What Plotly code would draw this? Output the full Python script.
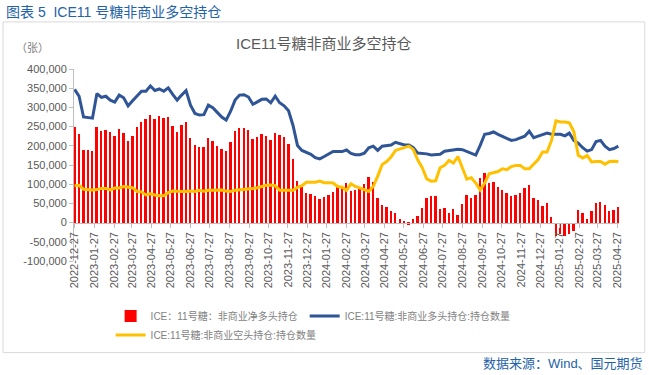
import plotly.graph_objects as go
import pandas as pd

# ---------------- data ----------------
first_week = "2022-12-27"
n_weeks = 123
week_dates = pd.date_range(first_week, periods=n_weeks, freq="7D")

net_long = [
    248000, 230000, 188000, 188000, 186000, 248000, 238000, 240000, 235000, 225000,
    243000, 233000, 212000, 225000, 248000, 262000, 271000, 281000, 269000, 278000,
    272000, 274000, 252000, 235000, 253000, 263000, 221000, 201000, 198000, 198000,
    221000, 213000, 200000, 192000, 186000, 210000, 238000, 246000, 246000, 240000,
    219000, 223000, 230000, 226000, 214000, 233000, 227000, 224000, 206000, 166000,
    108000, 92000, 78000, 75000, 69000, 61000, 67000, 71000, 81000, 92000,
    90000, 104000, 82000, 86000, 90000, 101000, 118000, 107000, 63000, 45000,
    41000, 29000, 26000, 9000, 4000, -5000, 10000, 18000, 37000, 65000,
    68000, 68000, 35000, 37000, 26000, 35000, 19000, 48000, 73000, 64000,
    73000, 116000, 130000, 103000, 106000, 94000, 84000, 77000, 69000, 72000,
    77000, 89000, 98000, 63000, 59000, 42000, 50000, 14000, -34000, -30000,
    -36000, -29000, -23000, 34000, 26000, 9000, 31000, 52000, 53000, 45000,
    29000, 33000, 40000,
]

long_pos = [
    347000, 329000, 275000, 274000, 272000, 336000, 326000, 329000, 319000, 314000,
    332000, 325000, 304000, 317000, 329000, 342000, 342000, 356000, 344000, 348000,
    342000, 351000, 334000, 319000, 332000, 344000, 306000, 284000, 280000, 281000,
    306000, 299000, 287000, 275000, 267000, 290000, 319000, 332000, 333000, 327000,
    308000, 314000, 321000, 322000, 312000, 329000, 312000, 304000, 291000, 253000,
    201000, 188000, 183000, 178000, 169000, 166000, 172000, 179000, 185000, 185000,
    185000, 189000, 180000, 177000, 177000, 181000, 195000, 199000, 188000, 199000,
    200000, 202000, 209000, 206000, 202000, 202000, 195000, 181000, 180000, 179000,
    176000, 177000, 178000, 186000, 188000, 190000, 191000, 190000, 186000, 181000,
    176000, 201000, 230000, 232000, 236000, 230000, 225000, 221000, 214000, 216000,
    221000, 225000, 238000, 221000, 225000, 228000, 233000, 230000, 230000, 230000,
    226000, 233000, 214000, 207000, 195000, 186000, 190000, 211000, 214000, 199000,
    190000, 193000, 199000,
]

short_pos = [
    96000, 97000, 87000, 86000, 85000, 86000, 89000, 89000, 85000, 90000,
    90000, 94000, 93000, 91000, 81000, 80000, 72000, 75000, 72000, 70000,
    70000, 78000, 82000, 81000, 81000, 81000, 82000, 81000, 84000, 82000,
    84000, 84000, 85000, 85000, 82000, 81000, 84000, 85000, 86000, 87000,
    89000, 91000, 94000, 97000, 98000, 96000, 84000, 84000, 85000, 84000,
    92000, 96000, 105000, 105000, 105000, 108000, 104000, 104000, 103000, 94000,
    92000, 84000, 101000, 94000, 91000, 86000, 81000, 94000, 121000, 151000,
    159000, 171000, 188000, 192000, 197000, 199000, 190000, 163000, 143000, 114000,
    108000, 109000, 143000, 149000, 162000, 155000, 172000, 142000, 113000, 117000,
    103000, 85000, 103000, 127000, 129000, 133000, 140000, 138000, 146000, 149000,
    149000, 140000, 140000, 152000, 164000, 184000, 184000, 214000, 265000, 262000,
    262000, 260000, 237000, 175000, 168000, 175000, 158000, 159000, 159000, 152000,
    159000, 160000, 159000,
]

x_tick_labels = [
    "2022-12-27", "2023-01-27", "2023-02-27", "2023-03-27", "2023-04-27",
    "2023-05-27", "2023-06-27", "2023-07-27", "2023-08-27", "2023-09-27",
    "2023-10-27", "2023-11-27", "2023-12-27", "2024-01-27", "2024-02-27",
    "2024-03-27", "2024-04-27", "2024-05-27", "2024-06-27", "2024-07-27",
    "2024-08-27", "2024-09-27", "2024-10-27", "2024-11-27", "2024-12-27",
    "2025-01-27", "2025-02-27", "2025-03-27", "2025-04-27",
]

y_tick_vals = [400000, 350000, 300000, 250000, 200000, 150000, 100000, 50000, 0, -50000, -100000]
y_tick_text = ["400,000", "350,000", "300,000", "250,000", "200,000", "150,000",
               "100,000", "50,000", "0", "-50,000", "-100,000"]

name_net = "ICE：11号糖：非商业净多头持仓"
name_long = "ICE:11号糖:非商业多头持仓:持仓数量"
name_short = "ICE:11号糖:非商业空头持仓:持仓数量"

main_title = "图表 5  ICE11 号糖非商业多空持仓"
chart_title = "ICE11号糖非商业多空持仓"
unit_label = "（张）"
source_label = "数据来源：Wind、国元期货"

# ---------------- styling ----------------
FONT = "Liberation Sans, Noto Sans CJK SC, sans-serif"
BLUE_TXT = "#2462A8"
AX = "#BFBFBF"

W, H = 649, 375
L, R, T, B = 74.4, 29.8, 69, 114.4
pw, ph = W - L - R, H - T - B


def px_x(p):
    return (p - L) / pw


def px_y(p):
    return (H - B - p) / ph


fig = go.Figure()
fig.add_trace(go.Bar(
    x=week_dates, y=net_long, name=name_net, legend="legend",
    marker=dict(color="#FF0000", line=dict(width=0)),
    width=3 * 86400000,
))
fig.add_trace(go.Scatter(
    x=week_dates, y=long_pos, name=name_long, mode="lines", legend="legend2",
    line=dict(color="#2F5597", width=3),
))
fig.add_trace(go.Scatter(
    x=week_dates, y=short_pos, name=name_short, mode="lines", legend="legend3",
    line=dict(color="#FFC000", width=3),
))


def leg(xp, yp):
    return dict(
        orientation="h", x=px_x(xp), y=px_y(yp), xanchor="left", yanchor="top",
        font=dict(size=10, color="#7F7F7F", family=FONT), itemwidth=30,
        bgcolor="rgba(0,0,0,0)",
    )


fig.update_layout(
    width=W, height=H, autosize=False,
    margin=dict(l=L, r=R, t=T, b=B, pad=0),
    paper_bgcolor="white", plot_bgcolor="white",
    font=dict(family=FONT, size=11, color="#595959"),
    showlegend=True,
    legend=leg(111, 301),
    legend2=leg(305, 301),
    legend3=leg(111, 320),
    bargap=0,
    xaxis=dict(
        type="date",
        range=["2022-12-26", "2025-04-30"],
        tickvals=x_tick_labels, ticktext=x_tick_labels,
        tickangle=-90, ticks="outside", ticklen=4, tickcolor=AX,
        showline=True, linecolor=AX, linewidth=1,
        anchor="free", position=0.2,
        showgrid=False, zeroline=False,
        tickfont=dict(size=11, color="#595959", family=FONT),
    ),
    yaxis=dict(
        range=[-100000, 400000],
        tickvals=y_tick_vals, ticktext=y_tick_text,
        ticks="outside", ticklen=4, tickcolor=AX,
        showline=True, linecolor=AX, linewidth=1,
        showgrid=False, zeroline=False,
        tickfont=dict(size=11, color="#595959", family=FONT),
    ),
    shapes=[dict(
        type="rect", xref="paper", yref="paper",
        x0=px_x(3.5), x1=px_x(645), y0=px_y(352), y1=px_y(22),
        line=dict(color="#D9D9D9", width=1), fillcolor="rgba(0,0,0,0)", layer="below",
    )],
    annotations=[
        dict(text=main_title, xref="paper", yref="paper", x=px_x(4), y=px_y(12),
             xanchor="left", yanchor="middle", showarrow=False,
             font=dict(size=14, color=BLUE_TXT, family=FONT)),
        dict(text=chart_title, xref="paper", yref="paper", x=px_x(324), y=px_y(44),
             xanchor="center", yanchor="middle", showarrow=False,
             font=dict(size=15, color="#595959", family=FONT)),
        dict(text=unit_label, xref="paper", yref="paper", x=px_x(33), y=px_y(48),
             xanchor="center", yanchor="middle", showarrow=False,
             font=dict(size=11, color="#7F7F7F", family=FONT)),
        dict(text=source_label, xref="paper", yref="paper", x=px_x(645), y=px_y(363),
             xanchor="right", yanchor="middle", showarrow=False,
             font=dict(size=13, color=BLUE_TXT, family=FONT)),
    ],
)

fig.write_html(
    "out.html",
    config={"displayModeBar": False},
    post_script="document.body.style.margin='0';",
)
